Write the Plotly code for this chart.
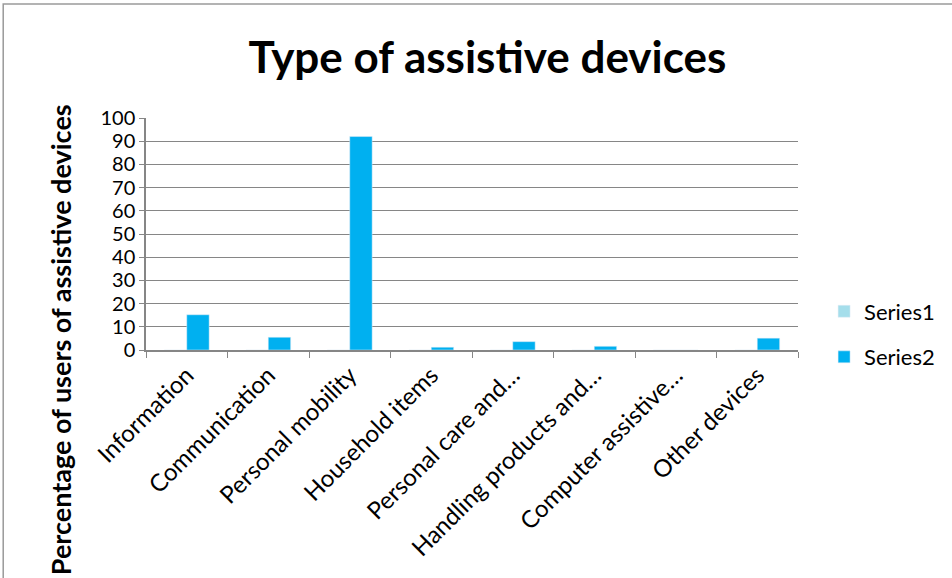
import plotly.graph_objects as go

categories = [
    "Information",
    "Communication",
    "Personal mobility",
    "Household items",
    "Personal care and…",
    "Handling products and…",
    "Computer assistive…",
    "Other devices",
]
series1 = [0, 0, 0, 0, 0, 0, 0, 0]
series2 = [15.2, 5.5, 92, 1.2, 3.6, 1.6, 0, 5.1]

FONT = "Lato"

fig = go.Figure()
fig.add_trace(go.Bar(x=categories, y=series1, name="Series1", legendgroup="s1",
                     marker_color="#A5DEEB"))
fig.add_trace(go.Bar(x=categories, y=series2, name="Series2", legendgroup="s2",
                     marker_color="#00B0F0"))

fig.update_layout(
    width=952,
    height=578,
    paper_bgcolor="white",
    plot_bgcolor="white",
    barmode="group",
    bargap=0.45,
    bargroupgap=0,
    margin=dict(l=146, r=154, t=118, b=228, autoexpand=False),
    font=dict(family=FONT, color="black"),
    title=dict(
        text="<b>Type of assistive devices</b>",
        x=0.512, xanchor="center", xref="container",
        y=0.9, yanchor="middle", yref="container",
        font=dict(size=44, family=FONT, color="black"),
    ),
    showlegend=True,
    legend=dict(
        x=1.04, xanchor="left", y=0.067, yanchor="middle",
        font=dict(size=22, family=FONT),
        tracegroupgap=14,
        itemwidth=30,
    ),
    shapes=[dict(
        type="rect", xref="paper", yref="paper",
        x0=-0.219, x1=1.3, y0=-1.2, y1=1.491,
        line=dict(color="#9a9a9a", width=1.5),
    )],
    annotations=[dict(
        text="<b>Percentage of users of assistive devices</b>",
        xref="paper", yref="paper", x=-0.131, y=0.045,
        textangle=-90, showarrow=False,
        font=dict(size=27, family=FONT),
        xanchor="center", yanchor="middle",
    )],
)

fig.update_xaxes(
    type="category",
    automargin=False,
    tickangle=-45,
    tickfont=dict(size=24, family=FONT),
    showline=True, linecolor="#868686", linewidth=1.5,
    ticks="outside", tickson="boundaries", ticklen=6, tickcolor="#868686",
    showgrid=False,
)
fig.update_yaxes(
    range=[0, 100], dtick=10,
    automargin=False,
    tickfont=dict(size=20, family=FONT),
    showgrid=True, gridcolor="#868686", gridwidth=1,
    showline=True, linecolor="#868686", linewidth=1.5,
    ticks="outside", ticklen=5, tickcolor="#868686",
    zeroline=False,
)

fig.write_html(
    "out.html",
    config={"displayModeBar": False},
    post_script="document.body.style.margin = '0px';",
)
